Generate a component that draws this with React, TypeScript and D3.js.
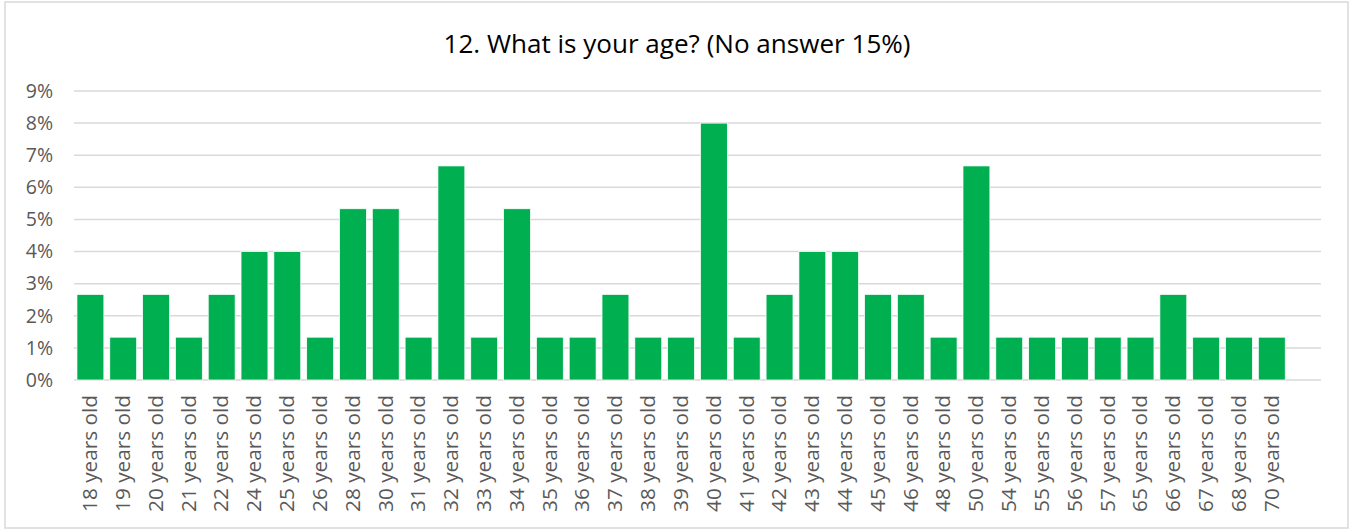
import React from "react";
import * as d3 from "d3";

const categories = ["18","19","20","21","22","24","25","26","28","30","31","32","33","34","35","36","37","38","39","40","41","42","43","44","45","46","48","50","54","55","56","57","65","66","67","68","70"].map(a => `${a} years old`);
const counts = [2,1,2,1,2,3,3,1,4,4,1,5,1,4,1,1,2,1,1,6,1,2,3,3,2,2,1,5,1,1,1,1,1,2,1,1,1];
const total = 75;
const values = counts.map(c => (c / total) * 100);
const yTicks = [0,1,2,3,4,5,6,7,8,9];
const title = "12. What is your age? (No answer 15%)";

const W = 1350, H = 531;
const font = "'Open Sans', 'Noto Sans', sans-serif";

export default function App() {
  const domain = [...categories, ""];
  const x = d3.scaleBand<string>().domain(domain).range([74, 1321]).paddingInner(0.18).paddingOuter(0.09);
  const y = d3.scaleLinear().domain([0, 9]).range([380, 91]);
  return (
    <svg width={W} height={H} style={{ position: "absolute", left: 0, top: 0 }}>
      <rect x={5} y={2} width={1343} height={526} fill="#fff" stroke="#d9d9d9" strokeWidth={1.5} />
      <text x={677} y={53} textAnchor="middle" fontFamily={font} fontSize={25.5} fill="#000" textLength={467} lengthAdjust="spacingAndGlyphs">{title}</text>
      {yTicks.map(t => (
        <g key={t}>
          <line x1={74} x2={1321} y1={y(t)} y2={y(t)} stroke="#d9d9d9" strokeWidth={1.5} />
          <text x={53} y={y(t)} dy="0.35em" textAnchor="end" fontFamily={font} fontSize={19.5} fill="#595959">{t}%</text>
        </g>
      ))}
      {categories.map((c, i) => (
        <rect key={c} x={x(c)} y={y(values[i])} width={x.bandwidth()} height={y(0) - y(values[i])} fill="#00B050" stroke="#ffffff" strokeWidth={0.75} />
      ))}
      {categories.map(c => {
        const cx = (x(c) as number) + x.bandwidth() / 2;
        return (
          <text key={c} transform={`translate(${cx},395) rotate(-90)`} dy="0.35em" textAnchor="end" fontFamily={font} fontSize={19.5} fill="#595959" textLength={117} lengthAdjust="spacingAndGlyphs">{c}</text>
        );
      })}
    </svg>
  );
}
